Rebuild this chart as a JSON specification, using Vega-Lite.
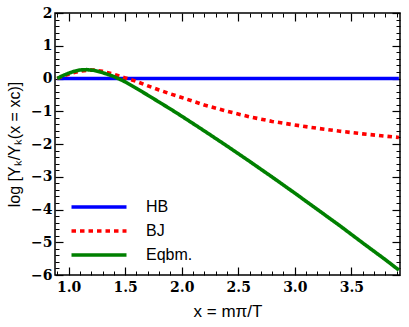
{
  "$schema": "https://vega.github.io/schema/vega-lite/v6.json",
  "width": 345,
  "height": 262,
  "autosize": {"type": "none"},
  "padding": {"left": 55, "top": 13, "right": 9, "bottom": 52},
  "background": "white",
  "config": {
    "view": {"stroke": "black", "strokeWidth": 1.5},
    "axis": {"domain": false, "grid": false, "tickColor": "black", "labelColor": "black", "titleColor": "black"}
  },
  "data": {"values": [
    {"x": 0.90, "y": 0, "s": "HB"}, {"x": 1.5, "y": 0, "s": "HB"}, {"x": 2.5, "y": 0, "s": "HB"}, {"x": 3.92, "y": 0, "s": "HB"},
    {"x": 0.90, "y": 0.0, "s": "BJ"}, {"x": 0.95, "y": 0.07, "s": "BJ"}, {"x": 1.00, "y": 0.13, "s": "BJ"}, {"x": 1.05, "y": 0.18, "s": "BJ"},
    {"x": 1.10, "y": 0.22, "s": "BJ"}, {"x": 1.16, "y": 0.25, "s": "BJ"}, {"x": 1.22, "y": 0.26, "s": "BJ"}, {"x": 1.30, "y": 0.22, "s": "BJ"},
    {"x": 1.40, "y": 0.13, "s": "BJ"}, {"x": 1.50, "y": 0.02, "s": "BJ"}, {"x": 1.60, "y": -0.09, "s": "BJ"}, {"x": 1.72, "y": -0.25, "s": "BJ"},
    {"x": 1.80, "y": -0.35, "s": "BJ"}, {"x": 1.90, "y": -0.47, "s": "BJ"}, {"x": 2.00, "y": -0.58, "s": "BJ"}, {"x": 2.20, "y": -0.81, "s": "BJ"},
    {"x": 2.40, "y": -1.00, "s": "BJ"}, {"x": 2.60, "y": -1.17, "s": "BJ"}, {"x": 2.80, "y": -1.31, "s": "BJ"}, {"x": 3.00, "y": -1.42, "s": "BJ"},
    {"x": 3.20, "y": -1.52, "s": "BJ"}, {"x": 3.40, "y": -1.61, "s": "BJ"}, {"x": 3.60, "y": -1.69, "s": "BJ"}, {"x": 3.80, "y": -1.76, "s": "BJ"},
    {"x": 3.92, "y": -1.80, "s": "BJ"},
    {"x": 0.90, "y": 0.0, "s": "Eqbm."}, {"x": 0.95, "y": 0.09, "s": "Eqbm."}, {"x": 1.00, "y": 0.16, "s": "Eqbm."}, {"x": 1.05, "y": 0.22, "s": "Eqbm."},
    {"x": 1.10, "y": 0.26, "s": "Eqbm."}, {"x": 1.16, "y": 0.27, "s": "Eqbm."}, {"x": 1.22, "y": 0.25, "s": "Eqbm."}, {"x": 1.30, "y": 0.18, "s": "Eqbm."},
    {"x": 1.40, "y": 0.06, "s": "Eqbm."}, {"x": 1.50, "y": -0.10, "s": "Eqbm."}, {"x": 1.60, "y": -0.30, "s": "Eqbm."}, {"x": 1.72, "y": -0.55, "s": "Eqbm."},
    {"x": 1.80, "y": -0.72, "s": "Eqbm."}, {"x": 1.90, "y": -0.93, "s": "Eqbm."}, {"x": 2.00, "y": -1.15, "s": "Eqbm."}, {"x": 2.20, "y": -1.60, "s": "Eqbm."},
    {"x": 2.40, "y": -2.06, "s": "Eqbm."}, {"x": 2.60, "y": -2.53, "s": "Eqbm."}, {"x": 2.80, "y": -3.01, "s": "Eqbm."}, {"x": 3.00, "y": -3.50, "s": "Eqbm."},
    {"x": 3.20, "y": -4.00, "s": "Eqbm."}, {"x": 3.40, "y": -4.50, "s": "Eqbm."}, {"x": 3.60, "y": -5.02, "s": "Eqbm."}, {"x": 3.80, "y": -5.53, "s": "Eqbm."},
    {"x": 3.92, "y": -5.85, "s": "Eqbm."}
  ]},
  "layer": [
    {
      "mark": {"type": "point", "opacity": 0},
      "encoding": {
        "x": {"field": "x", "type": "quantitative", "scale": {"domain": [0.88, 3.93], "nice": false, "zero": false},
          "axis": {"orient": "bottom", "values": [0.9,1.1,1.2,1.3,1.4,1.6,1.7,1.8,1.9,2.1,2.2,2.3,2.4,2.6,2.7,2.8,2.9,3.1,3.2,3.3,3.4,3.6,3.7,3.8,3.9], "tickSize": -4, "tickWidth": 1, "labels": false, "title": null}},
        "y": {"field": "y", "type": "quantitative", "scale": {"domain": [-6, 2], "nice": false, "zero": false},
          "axis": {"orient": "left", "values": [-5.8,-5.6,-5.4,-5.2,-4.8,-4.6,-4.4,-4.2,-3.8,-3.6,-3.4,-3.2,-2.8,-2.6,-2.4,-2.2,-1.8,-1.6,-1.4,-1.2,-0.8,-0.6,-0.4,-0.2,0.2,0.4,0.6,0.8,1.2,1.4,1.6,1.8], "tickSize": -4, "tickWidth": 1, "labels": false, "title": null}}
      }
    },
    {
      "mark": {"type": "point", "opacity": 0},
      "encoding": {
        "x": {"field": "x", "type": "quantitative", "scale": {"domain": [0.88, 3.93], "nice": false, "zero": false},
          "axis": {"orient": "top", "values": [0.9,1.1,1.2,1.3,1.4,1.6,1.7,1.8,1.9,2.1,2.2,2.3,2.4,2.6,2.7,2.8,2.9,3.1,3.2,3.3,3.4,3.6,3.7,3.8,3.9], "tickSize": -4, "tickWidth": 1, "labels": false, "title": null}},
        "y": {"field": "y", "type": "quantitative", "scale": {"domain": [-6, 2], "nice": false, "zero": false},
          "axis": {"orient": "right", "values": [-5.8,-5.6,-5.4,-5.2,-4.8,-4.6,-4.4,-4.2,-3.8,-3.6,-3.4,-3.2,-2.8,-2.6,-2.4,-2.2,-1.8,-1.6,-1.4,-1.2,-0.8,-0.6,-0.4,-0.2,0.2,0.4,0.6,0.8,1.2,1.4,1.6,1.8], "tickSize": -4, "tickWidth": 1, "labels": false, "title": null}}
      }
    },
    {
      "mark": {"type": "point", "opacity": 0},
      "encoding": {
        "x": {"field": "x", "type": "quantitative", "scale": {"domain": [0.88, 3.93], "nice": false, "zero": false},
          "axis": {"orient": "top", "values": [1, 1.5, 2, 2.5, 3, 3.5], "tickSize": -8, "tickWidth": 1.2, "labels": false, "title": null}},
        "y": {"field": "y", "type": "quantitative", "scale": {"domain": [-6, 2], "nice": false, "zero": false},
          "axis": {"orient": "right", "values": [-6,-5,-4,-3,-2,-1,0,1,2], "tickSize": -8, "tickWidth": 1.2, "labels": false, "title": null}}
      }
    },
    {
      "mark": {"type": "line", "strokeWidth": 3.6},
      "encoding": {
        "x": {"field": "x", "type": "quantitative", "scale": {"domain": [0.88, 3.93], "nice": false, "zero": false},
          "axis": {"orient": "bottom", "values": [1, 1.5, 2, 2.5, 3, 3.5], "format": ".1f", "tickSize": -8, "tickWidth": 1.2,
            "labelFont": "DejaVu Serif", "labelFontWeight": "bold", "labelFontSize": 14, "labelPadding": 13,
            "title": "x = mπ/T", "titleFont": "Liberation Sans", "titleFontWeight": "normal", "titleFontSize": 17,
            "titleY": 28, "titleBaseline": "top"}},
        "y": {"field": "y", "type": "quantitative", "scale": {"domain": [-6, 2], "nice": false, "zero": false},
          "axis": {"orient": "left", "values": [-6,-5,-4,-3,-2,-1,0,1,2], "tickSize": -8, "tickWidth": 1.2,
            "labelFont": "DejaVu Serif", "labelFontWeight": "bold", "labelFontSize": 14, "labelPadding": 11,
            "title": "log [Yₖ/Yₖ(x = xc)]", "titleFont": "Liberation Sans", "titleFontWeight": "normal", "titleFontSize": 16,
            "titleX": -36, "titleBaseline": "alphabetic"}},
        "color": {"field": "s", "type": "nominal", "sort": ["HB", "BJ", "Eqbm."],
          "scale": {"domain": ["HB", "BJ", "Eqbm."], "range": ["#0000ff", "#ff0000", "#008000"]},
          "legend": {"orient": "none", "legendX": 36, "legendY": 186, "title": null, "symbolType": "M-5,0H5", "symbolSize": 121,
            "symbolStrokeWidth": 3.6, "labelFont": "Liberation Sans", "labelFontSize": 16, "labelColor": "black", "labelOffset": 39, "rowPadding": 8}},
        "strokeDash": {"field": "s", "type": "nominal", "sort": ["HB", "BJ", "Eqbm."],
          "scale": {"domain": ["HB", "BJ", "Eqbm."], "range": [[1, 0], [4.5, 4], [1, 0]]}, "legend": null}
      }
    }
  ],
  "resolve": {"axis": {"x": "independent", "y": "independent"}}
}
